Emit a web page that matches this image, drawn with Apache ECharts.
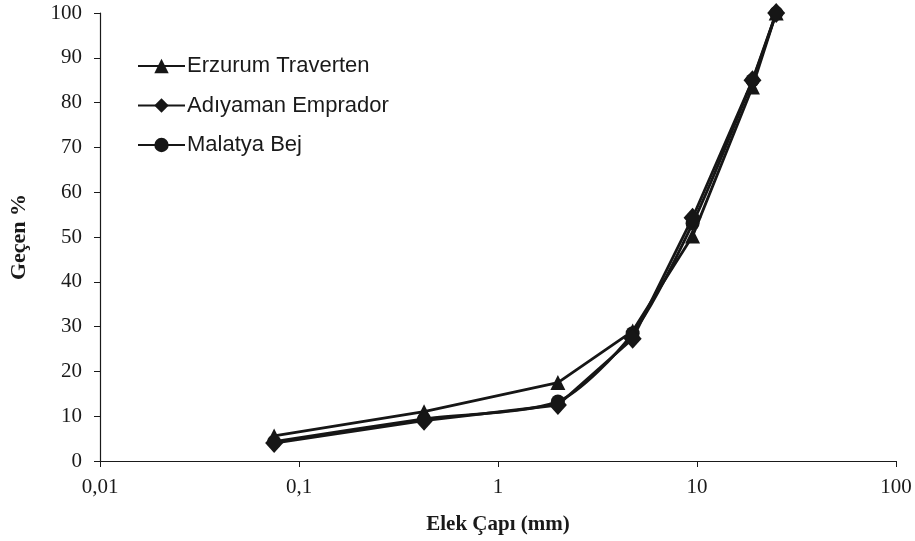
<!DOCTYPE html>
<html><head><meta charset="utf-8">
<script src="https://cdn.jsdelivr.net/npm/echarts@6/dist/echarts.min.js"></script>
<style>html,body{margin:0;padding:0;background:#fff}#c{width:915px;height:541px}</style>
</head><body><div id="c"></div>
<script>
const sieveSizes = [0.075, 0.425, 2, 4.75, 9.5, 19, 25];
const erzurum = [5.6, 11, 17.5, 29, 50.2, 83.5, 100];
const adiyaman = [4, 9, 12.5, 27.3, 54.3, 85, 100];
const malatya = [4.3, 9.4, 13.3, 28.5, 53, 85, 100];
const seriesNames = ['Erzurum Traverten', 'Adıyaman Emprador', 'Malatya Bej'];
const xTickLabels = {0.01: '0,01', 0.1: '0,1', 1: '1', 10: '10', 100: '100'};

const col = '#161616';
const pair = arr => sieveSizes.map((x, i) => [x, arr[i]]);
const chart = echarts.init(document.getElementById('c'));
chart.setOption({
  animation: false,
  backgroundColor: '#fff',
  grid: {left: 100, right: 19, top: 13, bottom: 80, outerBoundsMode: 'none', containLabel: false},
  legend: {
    orient: 'vertical', left: 132, top: 50, itemWidth: 47, itemHeight: 18, itemGap: 17.5,
    textStyle: {fontFamily: 'Liberation Sans', fontSize: 22, color: '#1a1a1a', padding: [0,0,0,-3]},
    data: seriesNames
  },
  xAxis: {
    type: 'log', min: 0.01, max: 100, logBase: 10,
    name: 'Elek Çapı (mm)', nameLocation: 'middle', nameGap: 53,
    nameTextStyle: {fontFamily: 'Liberation Serif', fontWeight: 'bold', fontSize: 21, color: '#1a1a1a'},
    axisLine: {lineStyle: {color: '#1a1a1a', width: 1.2}},
    axisTick: {inside: false, length: 6, lineStyle: {color: '#1a1a1a'}},
    minorTick: {show: false},
    splitLine: {show: false},
    axisLabel: {fontFamily: 'Liberation Serif', fontSize: 21, color: '#1a1a1a', margin: 16,
      formatter: v => xTickLabels[+v.toPrecision(3)] || String(v).replace('.', ',')}
  },
  yAxis: {
    type: 'value', min: 0, max: 100, interval: 10,
    name: 'Geçen %', nameLocation: 'middle', nameGap: 70, nameRotate: 90,
    nameTextStyle: {fontFamily: 'Liberation Serif', fontWeight: 'bold', fontSize: 22, color: '#1a1a1a'},
    axisLine: {show: true, lineStyle: {color: '#1a1a1a', width: 1.2}},
    axisTick: {show: true, length: 6, lineStyle: {color: '#1a1a1a'}},
    splitLine: {show: false},
    axisLabel: {fontFamily: 'Liberation Serif', fontSize: 21, color: '#1a1a1a', margin: 18}
  },
  series: [
    {name: seriesNames[0], type: 'line', data: pair(erzurum), symbol: 'triangle', symbolSize: 15,
     lineStyle: {color: col, width: 2.8}, itemStyle: {color: col}, z: 2},
    {name: seriesNames[2], type: 'line', data: pair(malatya), symbol: 'circle', symbolSize: 14, smooth: 0.25,
     lineStyle: {color: col, width: 2.8}, itemStyle: {color: col}, z: 3},
    {name: seriesNames[1], type: 'line', data: pair(adiyaman), symbol: 'diamond', symbolSize: [18, 20],
     lineStyle: {color: col, width: 2.8}, itemStyle: {color: col}, z: 4}
  ]
});
</script></body></html>
